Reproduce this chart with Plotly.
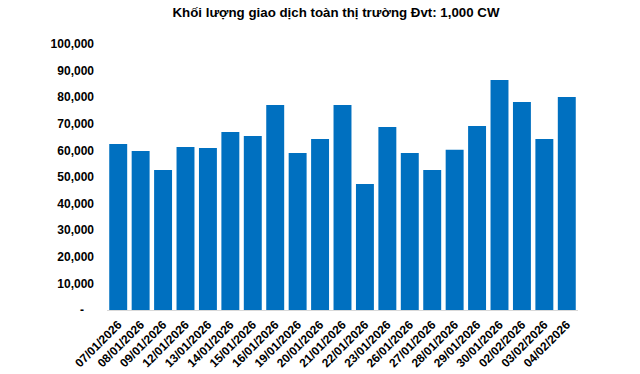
import plotly.graph_objects as go

dates = ["07/01/2026", "08/01/2026", "09/01/2026", "12/01/2026", "13/01/2026",
         "14/01/2026", "15/01/2026", "16/01/2026", "19/01/2026", "20/01/2026",
         "21/01/2026", "22/01/2026", "23/01/2026", "26/01/2026", "27/01/2026",
         "28/01/2026", "29/01/2026", "30/01/2026", "02/02/2026", "03/02/2026",
         "04/02/2026"]
volumes = [62400, 59800, 52600, 61300, 60900, 66900, 65400, 77100, 59000, 64300,
           77100, 47400, 68800, 59000, 52600, 60200, 69200, 86500, 78200, 64300,
           80100]
ytick_vals = [0, 10000, 20000, 30000, 40000, 50000, 60000, 70000, 80000, 90000, 100000]
ytick_text = ["-\u00a0\u00a0\u00a0", "10,000", "20,000", "30,000", "40,000", "50,000",
              "60,000", "70,000", "80,000", "90,000", "100,000"]
title = "Khối lượng giao dịch toàn thị trường Đvt: 1,000 CW"

W, H = 640, 374
fig = go.Figure(go.Bar(x=dates, y=volumes, marker_color="#0070C0",
                       marker_line_width=0))
font = "Liberation Sans, Arial, sans-serif"
fig.update_layout(
    width=W, height=H,
    margin=dict(l=107, r=62, t=44, b=64),
    paper_bgcolor="white", plot_bgcolor="white",
    bargap=0.2,
    showlegend=False,
    title=dict(text="<b>" + title + "</b>", x=336 / W, xanchor="center",
               y=1 - 12.5 / H, yanchor="middle",
               font=dict(family=font, size=13.3, color="#000000")),
    font=dict(family=font, size=11, color="#000000"),
)
fig.update_xaxes(type="category", tickangle=-45, showgrid=False, automargin=False,
                 showline=True, linecolor="#d9d9d9", linewidth=1,
                 ticks="", ticklabelstandoff=2,
                 tickfont=dict(family=font, size=12, color="#000000", weight="bold"))
fig.update_yaxes(range=[0, 100000], tickvals=ytick_vals, ticktext=ytick_text,
                 showgrid=False, zeroline=False, showline=False, ticks="",
                 automargin=False, ticklabelstandoff=12,
                 tickfont=dict(family=font, size=12, color="#000000", weight="bold"))
fig.write_html("out.html",
               config={"displayModeBar": False},
               post_script="document.body.style.margin='0';document.body.style.overflow='hidden';")
